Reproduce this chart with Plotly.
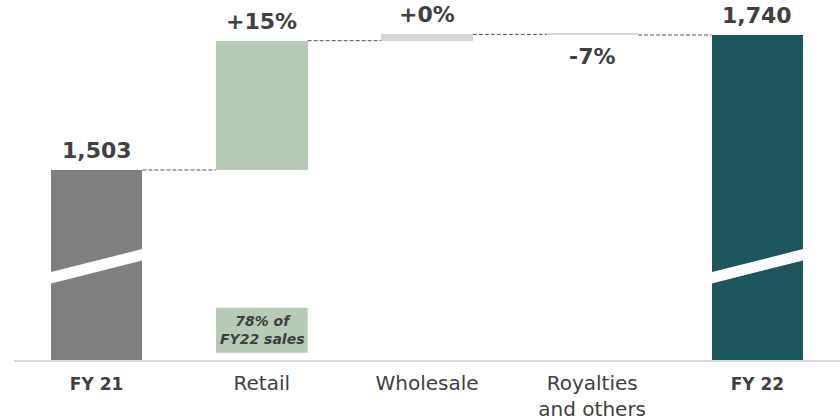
import plotly.graph_objects as go

# ---- data ----
categories = ["FY 21", "Retail", "Wholesale", "Royalties<br>and others", "FY 22"]
tick_labels = ["<span style='font-size:17px'><b>FY 21</b></span>", "Retail", "Wholesale",
               "Royalties<br>and others", "<span style='font-size:17px'><b>FY 22</b></span>"]
start_value = 1503
deltas = [227, 11, -1]          # Retail, Wholesale, Royalties (visual steps)
end_value = 1740
value_labels = ["1,503", "+15%", "+0%", "-7%", "1,740"]
note_text = "<b><i>78% of<br>FY22 sales</i></b>"

# ---- styling ----
colors = ["#7f7f7f", "#b6cab6", "#d6d6d6", "#d6d6d6", "#1b565c"]
text_color = "#404040"
axis_floor = 1169.4
axis_top = 1801.4
bar_w = 0.555
font = "DejaVu Sans, Liberation Sans, Arial, sans-serif"

# compute waterfall bases
bases = [0]
heights = [start_value]
level = start_value
levels = [start_value]
for d in deltas:
    if d >= 0:
        bases.append(level)
        heights.append(d)
    else:
        bases.append(level + d)
        heights.append(-d)
    level += d
    levels.append(level)
bases.append(0)
heights.append(end_value)
levels.append(end_value)

xs = list(range(len(categories)))

fig = go.Figure()
fig.add_trace(go.Bar(
    x=xs, y=heights, base=bases, width=bar_w,
    marker=dict(color=colors, line=dict(width=[0, 0, 0, 1, 0], color=colors)),
    hoverinfo="skip", showlegend=False,
))

shapes = []
# dashed connectors
for i in range(len(xs) - 1):
    y = levels[i]
    shapes.append(dict(type="line", xref="x", yref="y",
                       x0=i + bar_w / 2, x1=i + 1 - bar_w / 2, y0=y, y1=y,
                       line=dict(color="#555555", width=1, dash="4px,2px")))

# axis-break bands on total bars
brk_lo_left, brk_hi_right = 1302.8, 1345.0
brk_thick = 20.0
for i in (0, len(xs) - 1):
    x0 = i - bar_w / 2 - 0.01
    x1 = i + bar_w / 2 + 0.01
    path = (f"M {x0},{brk_lo_left} L {x1},{brk_hi_right} "
            f"L {x1},{brk_hi_right + brk_thick} L {x0},{brk_lo_left + brk_thick} Z")
    shapes.append(dict(type="path", xref="x", yref="y", path=path,
                       fillcolor="white", line=dict(width=0)))

# note box under retail
shapes.append(dict(type="rect", xref="x", yref="y",
                   x0=1 - bar_w / 2, x1=1 + bar_w / 2, y0=1182, y1=1261,
                   fillcolor="#b6cab6", line=dict(width=0)))

annotations = []
for i, lab in enumerate(value_labels):
    if lab.startswith("-"):
        annotations.append(dict(x=i, y=levels[i], xref="x", yref="y", text=f"<b>{lab}</b>",
                                showarrow=False, yanchor="top", yshift=-7,
                                font=dict(size=22, color=text_color, family=font)))
    else:
        annotations.append(dict(x=i, y=levels[i], xref="x", yref="y", text=f"<b>{lab}</b>",
                                showarrow=False, yanchor="bottom", yshift=5,
                                font=dict(size=22, color=text_color, family=font)))

annotations.append(dict(x=1, y=1221.5, xref="x", yref="y", text=note_text,
                        showarrow=False, yanchor="middle",
                        font=dict(size=14, color=text_color, family=font)))

fig.update_layout(
    width=840, height=420,
    margin=dict(l=14, r=0, t=0, b=60),
    paper_bgcolor="white", plot_bgcolor="white",
    shapes=shapes, annotations=annotations,
    bargap=0,
    xaxis=dict(range=[-0.5, 4.5], tickvals=xs, ticktext=tick_labels,
               showgrid=False, zeroline=False, showline=True,
               linecolor="#d9d9d9", linewidth=2, ticks="",
               ticklabelstandoff=4,
               tickfont=dict(size=20, color=text_color, family=font)),
    yaxis=dict(range=[axis_floor, axis_top], visible=False, showgrid=False),
)

fig.write_html("out.html")
